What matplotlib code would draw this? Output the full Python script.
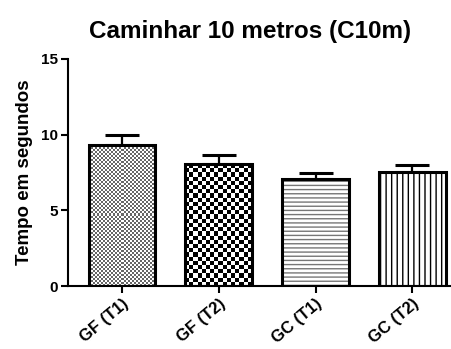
import numpy as np
import matplotlib
matplotlib.use("Agg")
import matplotlib.pyplot as plt

categories = ["GF (T1)", "GF (T2)", "GC (T1)", "GC (T2)"]
means = [9.3, 8.05, 7.1, 7.55]
errors = [0.65, 0.6, 0.35, 0.42]
yticks = [0, 5, 10, 15]

plt.rcParams['font.family'] = ['Liberation Sans', 'DejaVu Sans']
plt.rcParams['hatch.linewidth'] = 1.0

fig = plt.figure(figsize=(4.52, 3.49), dpi=100)
ax = fig.add_axes([0.150, 0.1805, 0.848, 0.6505])

x = np.arange(len(categories))
faces = ['none', 'none', 'white', 'white']
bars = ax.bar(x, means, width=0.69, color=faces, edgecolor='black', linewidth=2.2, zorder=2)
ax.errorbar(x, means, yerr=[np.zeros(len(errors)), errors], fmt='none', ecolor='black',
            elinewidth=1.6, capsize=12, capthick=2.2, zorder=1)

ax.set_xlim(-0.56, 3.4)
ax.set_ylim(0, 15)

def checker(bar, nx, color):
    b = bar
    x0, y0 = b.get_x(), b.get_y()
    w, h = b.get_width(), b.get_height()
    ny = int(round(nx * (h / 15 * 227) / (w / 3.96 * 383)))
    ii, jj = np.meshgrid(np.arange(nx), np.arange(ny))
    img = ((ii + jj) % 2).astype(float)
    im = ax.imshow(img, extent=[x0, x0 + w, y0, y0 + h], origin='lower',
                   cmap=matplotlib.colors.ListedColormap(['white', color]),
                   interpolation='nearest', aspect='auto', zorder=1.5)
    im.set_clip_path(b)

checker(bars[0], 33, '#666666')
checker(bars[1], 16, 'black')
ax.set_aspect('auto')
ax.set_xlim(-0.56, 3.4)
ax.set_ylim(0, 15)

bars[2].set_hatch('----')
bars[2]._hatch_color = matplotlib.colors.to_rgba('#777777')
bars[3].set_hatch('|||')

ax.set_yticks(yticks)
ax.set_yticklabels([str(v) for v in yticks], fontweight='bold', fontsize=11)
ax.set_xticks(x)
ax.set_xticklabels(categories, rotation=40, ha='right', rotation_mode='anchor',
                   fontweight='bold', fontsize=12)
ax.spines['top'].set_visible(False)
ax.spines['right'].set_visible(False)
ax.spines['left'].set_linewidth(1.5)
ax.spines['bottom'].set_linewidth(1.5)
ax.tick_params(axis='both', width=1.5, length=5, pad=2)
ax.set_ylabel("Tempo em segundos", fontweight='bold', fontsize=13.5, labelpad=6)
ax.set_title("Caminhar 10 metros (C10m)", fontweight='bold', fontsize=17.5, pad=15, x=0.475)

fig.savefig("out.png", dpi=100)
